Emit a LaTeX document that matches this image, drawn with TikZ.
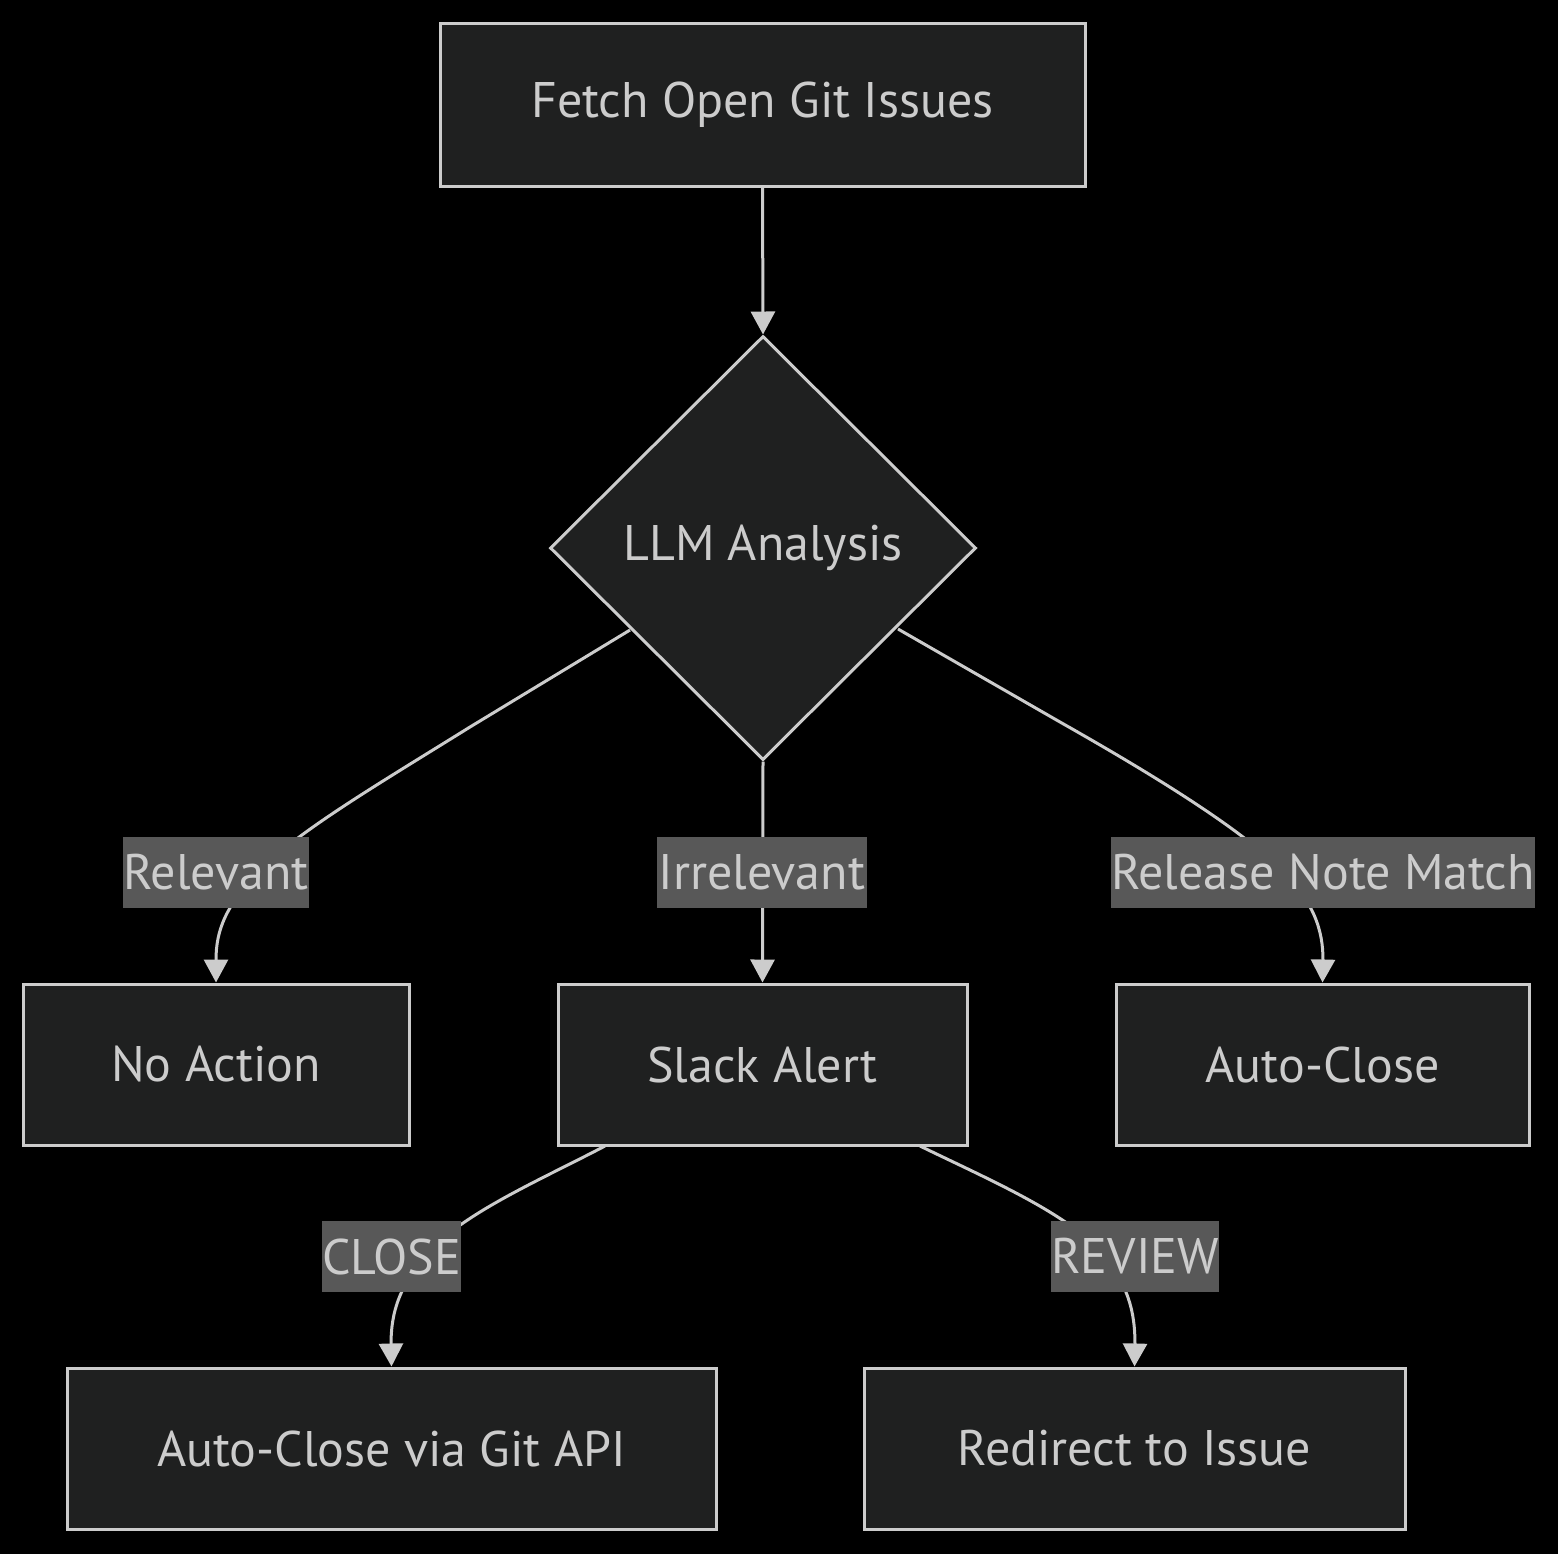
\documentclass[tikz,border=0pt]{standalone}
\usepackage{fontspec}
\setmainfont{PT Sans}
\usetikzlibrary{shapes.geometric,arrows.meta}
\definecolor{bgc}{HTML}{000000}
\definecolor{nodefill}{HTML}{1F2020}
\definecolor{strokec}{HTML}{CCCCCC}
\definecolor{lblfill}{HTML}{585858}
\begin{document}
\begin{tikzpicture}[x=0.5pt,y=-0.5pt,
  box/.style={draw=strokec,fill=nodefill,line width=1.5pt,text=strokec,
    font=\fontsize{25}{30}\selectfont,inner sep=0pt},
  dia/.style={diamond,draw=strokec,fill=nodefill,line width=1.5pt,text=strokec,
    font=\fontsize{25}{30}\selectfont,inner sep=0pt,minimum width=213pt,minimum height=212pt},
  lbl/.style={fill=lblfill,text=strokec,font=\fontsize{25}{30}\selectfont,
    inner sep=0pt,minimum height=35.5pt},
  conn/.style={draw=strokec,line width=1.5pt},
  arr/.style={-{Triangle[length=11.5pt,width=12pt]}}
]
\useasboundingbox[fill=bgc] (0,0) rectangle (1558,1554);
% nodes
\node[box,minimum width=322.5pt,minimum height=81.5pt] (fetch) at (762.5,104.5) {Fetch Open Git Issues};
\node[dia] (llm) at (763,548) {LLM Analysis};
\node[box,minimum width=193pt,minimum height=80.5pt] (noact) at (216,1064.5) {No Action};
\node[box,minimum width=204.5pt,minimum height=80.5pt] (slack) at (762.5,1064.5) {Slack Alert};
\node[box,minimum width=206.5pt,minimum height=80.5pt] (autoc) at (1322.5,1064.5) {Auto-Close};
\node[box,minimum width=324.5pt,minimum height=80.5pt] (viagit) at (391.5,1448.5) {Auto-Close via Git API};
\node[box,minimum width=270.5pt,minimum height=80.5pt] (redir) at (1134.5,1448.5) {Redirect to Issue};
% coordinates
\coordinate (l1) at (630,630);
\coordinate (r1) at (898,629);
\coordinate (s1) at (605,1146);
\coordinate (s2) at (920,1146);
% connectors
\draw[conn,arr] (fetch.south) -- (llm.north);
\draw[conn,arr] (l1) -- (470,727) .. controls (380,783) and (300,830) .. (260,870)
   .. controls (226,905) and (216,930) .. (216,960) -- (noact.north);
\draw[conn,arr] (llm.south) -- (slack.north);
\draw[conn,arr] (r1) -- (1060,722) .. controls (1150,773) and (1235,825) .. (1280,868)
   .. controls (1314,902) and (1323,930) .. (1323,960) -- (autoc.north);
\draw[conn,arr] (s1) .. controls (540,1180) and (470,1210) .. (430,1250)
   .. controls (400,1285) and (391,1310) .. (391,1345) -- (viagit.north);
\draw[conn,arr] (s2) .. controls (990,1180) and (1060,1210) .. (1100,1250)
   .. controls (1128,1285) and (1135,1310) .. (1135,1345) -- (redir.north);
% labels
\node[lbl,minimum width=93pt] (lrel) at (216,872.5) {Relevant};
\node[lbl,minimum width=105pt] (lirr) at (762,872.5) {Irrelevant};
\node[lbl,minimum width=211pt] (lrnm) at (1323,872.5) {Release Note Match};
\node[lbl,minimum width=67.5pt] (lclose) at (391.5,1256.5) {CLOSE};
\node[lbl,minimum width=81pt] (lrev) at (1135,1256.5) {REVIEW};
\end{tikzpicture}
\end{document}
